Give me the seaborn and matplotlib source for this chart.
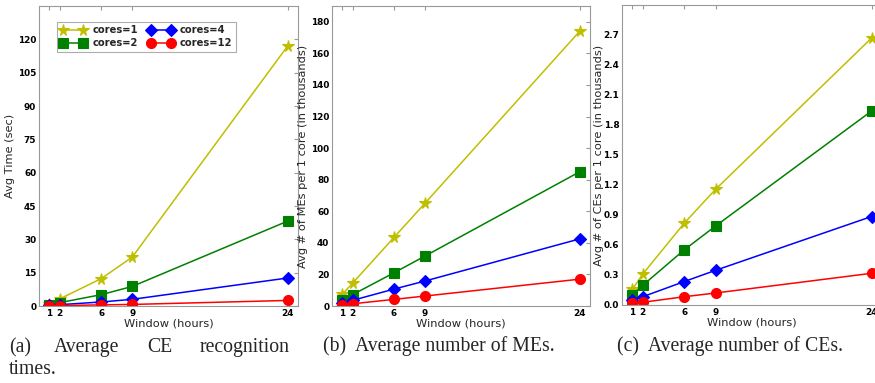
import numpy as np
import pandas as pd
import seaborn as sns
import matplotlib
matplotlib.use('Agg')
import matplotlib.pyplot as plt


WINDOWS = [1, 2, 6, 9, 24]
CORES = ['cores=1', 'cores=2', 'cores=4', 'cores=12']

# (a) average CE recognition time (sec)
TIME_C1 = [0.9, 3.2, 12.3, 22.0, 117.0]
TIME_C2 = [0.5, 1.5, 5.1, 8.8, 38.2]
TIME_C4 = [0.3, 0.6, 1.8, 3.0, 12.6]
TIME_C12 = [0.1, 0.2, 0.5, 0.7, 2.5]
# (b) average number of MEs per 1 core (thousands)
MES_C1 = [7.4, 14.5, 43.4, 65.0, 174.0]
MES_C2 = [3.6, 7.2, 21.0, 31.6, 85.0]
MES_C4 = [1.8, 3.6, 10.7, 15.8, 42.5]
MES_C12 = [0.7, 1.4, 4.2, 6.3, 17.0]
# (c) average number of CEs per 1 core (thousands)
CES_C1 = [0.157, 0.31, 0.82, 1.157, 2.67]
CES_C2 = [0.103, 0.197, 0.553, 0.79, 1.94]
CES_C4 = [0.05, 0.083, 0.235, 0.347, 0.885]
CES_C12 = [0.017, 0.027, 0.083, 0.12, 0.317]

YLABELS = ['Avg Time (sec)',
           'Avg # of MEs per 1 core (in thousands)',
           'Avg # of CEs per 1 core (in thousands)']
YLIMS = [(0, 135), (0, 190), (0, 3.0)]
YTICKS = [np.arange(0, 121, 15), np.arange(0, 181, 20), np.arange(0, 2.71, 0.3)]

###############################################################################
# Long tables
###############################################################################
def longTable(series):
    rows = []
    for (lbl, vals) in zip(CORES, series):
        for (w, v) in zip(WINDOWS, vals):
            rows.append({'window': w, 'value': v, 'cores': lbl})
    return pd.DataFrame(rows)


dfs = [
    longTable((TIME_C1, TIME_C2, TIME_C4, TIME_C12)),
    longTable((MES_C1, MES_C2, MES_C4, MES_C12)),
    longTable((CES_C1, CES_C2, CES_C4, CES_C12)),
]
clrs = {'cores=1': (0.75, 0.75, 0), 'cores=2': (0, 0.5, 0),
        'cores=4': (0, 0, 1), 'cores=12': (1, 0, 0)}
mrks = {'cores=1': '*', 'cores=2': 's', 'cores=4': 'D', 'cores=12': 'o'}
msz = {'cores=1': 8.5, 'cores=2': 6.8, 'cores=4': 6.5, 'cores=12': 7.2}

###############################################################################
# Plot
###############################################################################
sns.set_style('white')
plt.rcParams['font.family'] = ['DejaVu Sans']
plt.rcParams.update({
    'axes.edgecolor': '0.6',
    'axes.linewidth': 0.8,
    'xtick.direction': 'in',
    'ytick.direction': 'in',
    'xtick.top': True,
    'ytick.right': True,
    'xtick.major.size': 3,
    'ytick.major.size': 3,
    'xtick.color': '0.6',
    'ytick.color': '0.6',
    'xtick.labelcolor': 'black',
    'ytick.labelcolor': 'black',
})

W, H = 875, 383
fig = plt.figure(figsize=(W / 100, H / 100), dpi=100)
boxes = [(39, 6, 298, 306), (332, 6, 590, 306), (622, 5, 882, 305)]
ylblX = [15, 308, 604]
axes = []
for (i, (l, t, r, b)) in enumerate(boxes):
    ax = fig.add_axes([l / W, 1 - b / H, (r - l) / W, (b - t) / H])
    for lbl in CORES:
        sub = dfs[i][dfs[i]['cores'] == lbl]
        sns.lineplot(
            data=sub, x='window', y='value', ax=ax, color=clrs[lbl],
            marker=mrks[lbl], markersize=msz[lbl], markeredgecolor=clrs[lbl],
            markeredgewidth=0.8, linewidth=1.1, label=lbl, legend=False
        )
    ax.set_xlim(0, 25)
    ax.set_ylim(*YLIMS[i])
    ax.set_xticks(WINDOWS)
    ax.set_yticks(YTICKS[i])
    if i == 2:
        ax.set_yticklabels(['{:.1f}'.format(v) for v in YTICKS[i]])
    ax.tick_params(labelsize=6.4, pad=2)
    for t in ax.get_xticklabels() + ax.get_yticklabels():
        t.set_fontweight('bold')
    ax.set_xlabel('Window (hours)', fontsize=8.2, labelpad=0.5)
    ax.set_ylabel(YLABELS[i], fontsize=8.2)
    ax.yaxis.set_label_coords((ylblX[i] - l) / (r - l), 0.5)
    axes.append(ax)

leg = axes[0].legend(
    ncol=2, loc='upper left', bbox_to_anchor=(0.05, 0.965),
    numpoints=2, handlelength=2.6, fancybox=False, frameon=True,
    prop={'weight': 'bold', 'size': 7.2}, columnspacing=1.0,
    handletextpad=0.6, borderpad=0.35, labelspacing=0.3
)
leg.get_frame().set_edgecolor('0.6')
leg.get_frame().set_linewidth(0.8)

# captions ----------------------------------------------------------------
capFont = {'family': 'Liberation Serif', 'size': 14.2}
for (x, word) in [(9, '(a)'), (54, 'Average'), (147, 'CE'), (200, 'recognition')]:
    fig.text(x / W, 1 - 352 / H, word, fontdict=capFont, va='baseline')
fig.text(9 / W, 1 - 374 / H, 'times.', fontdict=capFont, va='baseline')
fig.text(323 / W, 1 - 351 / H, '(b)  Average number of MEs.', fontdict=capFont, va='baseline')
fig.text(617 / W, 1 - 351 / H, '(c)  Average number of CEs.', fontdict=capFont, va='baseline')

fig.savefig('out.png', dpi=100)
